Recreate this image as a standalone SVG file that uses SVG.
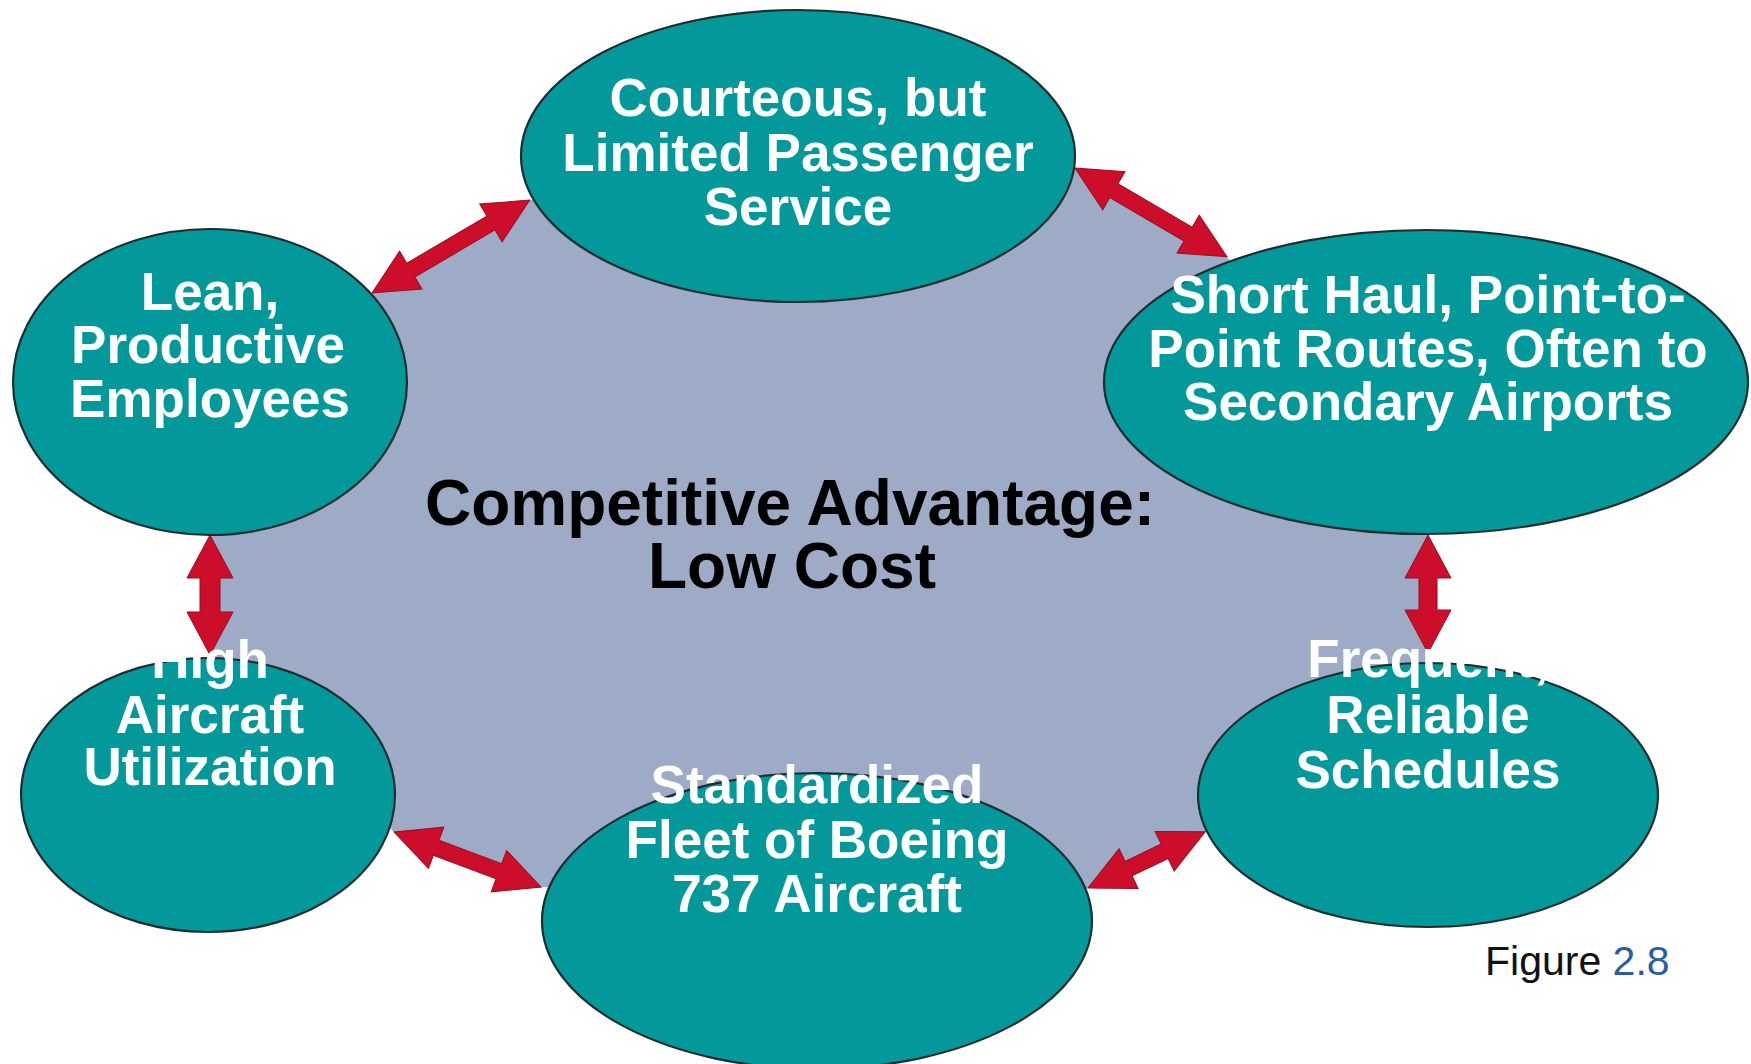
<svg xmlns="http://www.w3.org/2000/svg" width="1751" height="1064" viewBox="0 0 1751 1064">
  <style>
    .node { fill: #03999A; stroke: #1c2e2e; stroke-width: 2.2; }
    .lbl { font-family: "Liberation Sans", Arial, sans-serif; font-weight: bold; font-size: 53px; fill: #ffffff; text-anchor: middle; }
    .center { font-family: "Liberation Sans", Arial, sans-serif; font-weight: bold; font-size: 64px; fill: #000000; text-anchor: middle; }
    .arrow { fill: #CC0E2A; stroke: #9a0c20; stroke-width: 1; stroke-linejoin: miter; }
    .fig { font-family: "Liberation Sans", Arial, sans-serif; font-size: 41px; fill: #111111; }
  </style>
  <rect x="0" y="0" width="1751" height="1064" fill="#ffffff"/>
  <g id="background">
    <polygon fill="#9EABC6" points="372,293 530,200 800,180 1075,168 1227,257 1428,500 1428,535 1428,668 1205,832 1088,888 817,900 541,887 394,832 210,662 210,535 300,420"/>
    <text class="center" x="790" y="525">Competitive Advantage:</text>
    <text class="center" x="792" y="588">Low Cost</text>
  </g>
  <g id="connectors">
    <polygon class="arrow" transform="translate(372,293) rotate(-30.5)" points="0,0 45,-22 45,-8 138,-8 138,-22 183,0 138,22 138,8 45,8 45,22"/>
    <polygon class="arrow" transform="translate(1075,168) rotate(30.3)" points="0,0 45,-22 45,-8 131,-8 131,-22 176,0 131,22 131,8 45,8 45,22"/>
    <polygon class="arrow" transform="translate(1088,888) rotate(-25.6)" points="0,0 45,-22 45,-8 85,-8 85,-22 130,0 85,22 85,8 45,8 45,22"/>
    <polygon class="arrow" transform="translate(394,832) rotate(20.5)" points="0,0 45,-22 45,-8 112,-8 112,-22 157,0 112,22 112,8 45,8 45,22"/>
    <polygon class="arrow" transform="translate(210,535) rotate(90)" points="0,0 43,-23 43,-10 77,-10 77,-23 120,0 77,23 77,10 43,10 43,23"/>
    <polygon class="arrow" transform="translate(1428,535) rotate(90)" points="0,0 43,-23 43,-9 75,-9 75,-23 118,0 75,23 75,9 43,9 43,23"/>
  </g>
  <g id="node-courteous">
    <ellipse class="node" cx="798" cy="156" rx="277" ry="146"/>
    <text class="lbl" x="798" y="116">Courteous, but</text>
    <text class="lbl" x="798" y="171">Limited Passenger</text>
    <text class="lbl" x="798" y="225">Service</text>
  </g>
  <g id="node-shorthaul">
    <ellipse class="node" cx="1426" cy="382" rx="322" ry="152"/>
    <text class="lbl" x="1428" y="313">Short Haul, Point-to-</text>
    <text class="lbl" x="1428" y="367">Point Routes, Often to</text>
    <text class="lbl" x="1428" y="420">Secondary Airports</text>
  </g>
  <g id="node-lean">
    <ellipse class="node" cx="210" cy="382" rx="197" ry="153"/>
    <text class="lbl" x="210" y="310">Lean,</text>
    <text class="lbl" x="208" y="363">Productive</text>
    <text class="lbl" x="210" y="417">Employees</text>
  </g>
  <g id="node-high">
    <ellipse class="node" cx="208" cy="795" rx="187" ry="137"/>
    <text class="lbl" x="210" y="678">High</text>
    <text class="lbl" x="210" y="733">Aircraft</text>
    <text class="lbl" x="210" y="785">Utilization</text>
  </g>
  <g id="node-standardized">
    <ellipse class="node" cx="817" cy="921" rx="275" ry="148"/>
    <text class="lbl" x="817" y="803">Standardized</text>
    <text class="lbl" x="817" y="858">Fleet of Boeing</text>
    <text class="lbl" x="817" y="912">737 Aircraft</text>
  </g>
  <g id="node-frequent">
    <ellipse class="node" cx="1428" cy="795" rx="230" ry="132"/>
    <text class="lbl" x="1428" y="677">Frequent,</text>
    <text class="lbl" x="1428" y="733">Reliable</text>
    <text class="lbl" x="1428" y="788">Schedules</text>
  </g>
  <g id="caption">
    <text class="fig" x="1485" y="975">Figure <tspan fill="#2B5BA6">2.8</tspan></text>
  </g>
</svg>
